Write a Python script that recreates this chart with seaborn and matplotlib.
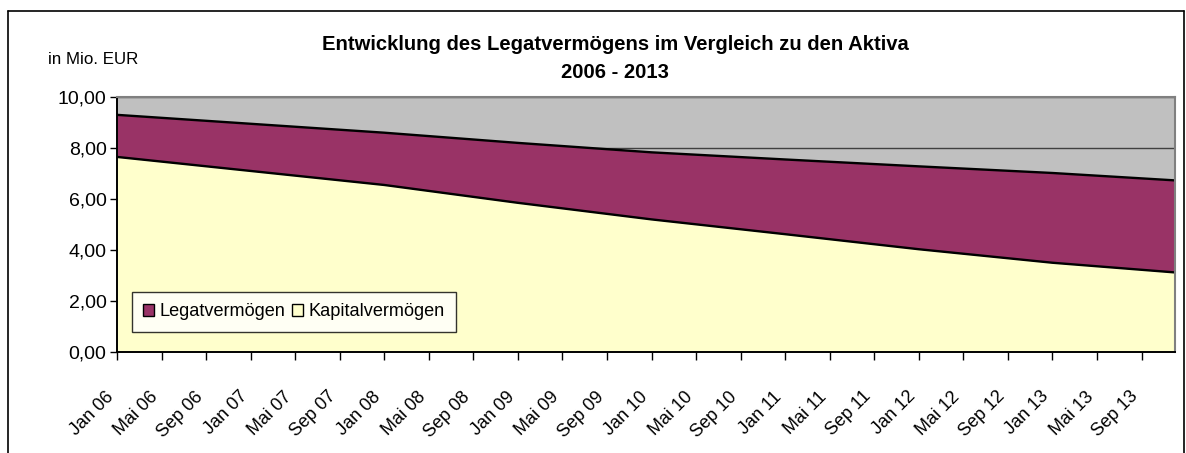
import numpy as np
import pandas as pd
import matplotlib
matplotlib.use("Agg")
import matplotlib.pyplot as plt
from matplotlib.patches import Patch
from matplotlib.lines import Line2D
import seaborn as sns

# Stichtage und Bestände in Mio. EUR
stichtage = ["2006-01", "2007-01", "2008-01", "2009-01", "2010-01",
             "2011-01", "2012-01", "2013-01", "2013-12"]
kapitalvermoegen = [7.65, 7.10, 6.55, 5.85, 5.20, 4.62, 4.03, 3.50, 3.12]
legatvermoegen = [1.65, 1.85, 2.05, 2.35, 2.63, 2.93, 3.25, 3.52, 3.61]

monats_labels = ["Jan 06", "Mai 06", "Sep 06", "Jan 07", "Mai 07", "Sep 07",
                 "Jan 08", "Mai 08", "Sep 08", "Jan 09", "Mai 09", "Sep 09",
                 "Jan 10", "Mai 10", "Sep 10", "Jan 11", "Mai 11", "Sep 11",
                 "Jan 12", "Mai 12", "Sep 12", "Jan 13", "Mai 13", "Sep 13"]
y_werte = [0, 2, 4, 6, 8, 10]

# Monatsindex ab Januar 2006
dt = pd.to_datetime(stichtage)
x = np.asarray((dt.year - 2006) * 12 + dt.month - 1, dtype=float)
kap = np.asarray(kapitalvermoegen)
gesamt = kap + np.asarray(legatvermoegen)

sns.set_theme(style="white")
plt.rcParams["font.family"] = ["Liberation Sans", "DejaVu Sans"]
plt.rcParams["text.color"] = "black"
plt.rcParams["xtick.color"] = "black"
plt.rcParams["ytick.color"] = "black"

W, H = 1186, 453
fig = plt.figure(figsize=(W / 100, H / 100), dpi=100)
fig.patch.set_facecolor("white")

ax = fig.add_axes([117 / W, 1 - 352 / H, (1175 - 117) / W, (352 - 97) / H])
ax.set_facecolor("#C0C0C0")

# Gitterlinien liegen hinter den Flächen
ax.set_axisbelow(True)
ax.yaxis.grid(True, color="#404040", lw=1.0)
ax.xaxis.grid(False)

ax.stackplot(x, kap, np.asarray(legatvermoegen),
             colors=["#FFFFCC", "#993366"], linewidth=0, zorder=2)
sns.lineplot(x=x, y=kap, color="black", lw=1.7, ax=ax, zorder=3)
sns.lineplot(x=x, y=gesamt, color="black", lw=1.7, ax=ax, zorder=3)
ax.vlines(x[-1], 0, gesamt[-1], color="#303030", lw=1.4, zorder=3)

ax.set_xlim(0, x[-1])
ax.set_ylim(0, 10)

ax.set_xticks(np.arange(len(monats_labels)) * 4)
ax.set_xticklabels(monats_labels, rotation=45, ha="right", va="top",
                   fontsize=13, color="black")
ax.set_yticks(y_werte)
ax.set_yticklabels([f"{v:.2f}".replace(".", ",") for v in y_werte],
                   fontsize=14, color="black")
ax.tick_params(axis="x", direction="out", length=6, width=1, color="black",
               pad=20, bottom=True)
ax.tick_params(axis="y", direction="out", length=5, width=1, color="black",
               pad=2.5, left=True)
ax.set_xlabel("")
ax.set_ylabel("")

for side in ("left", "bottom"):
    ax.spines[side].set_color("black")
    ax.spines[side].set_linewidth(1.4)
for side in ("top", "right"):
    ax.spines[side].set_color("#808080")
    ax.spines[side].set_linewidth(1.5)
for s in ax.spines.values():
    s.set_zorder(4)

# Legende
handles = [Patch(facecolor="#993366", edgecolor="black", lw=1.0),
           Patch(facecolor="#FFFFCC", edgecolor="black", lw=1.0)]
leg = fig.legend(handles, ["Legatvermögen", "Kapitalvermögen"], ncol=2,
                 loc="upper left", bbox_to_anchor=(132 / W, 1 - 292 / H),
                 frameon=True, fancybox=False, fontsize=13.1,
                 handlelength=0.6, handleheight=0.6, handletextpad=0.3,
                 columnspacing=0.35, borderpad=0.62, borderaxespad=0)
leg.get_frame().set_edgecolor("black")
leg.get_frame().set_linewidth(1.0)
leg.get_frame().set_facecolor("white")

# Titel und Einheit
fig.text(615 / W, 1 - 45 / H,
         "Entwicklung des Legatvermögens im Vergleich zu den Aktiva",
         ha="center", va="center", fontsize=14.6, fontweight="bold")
fig.text(615 / W, 1 - 72 / H, "2006 - 2013",
         ha="center", va="center", fontsize=14.6, fontweight="bold")
fig.text(48 / W, 1 - 59 / H, "in Mio. EUR", ha="left", va="center",
         fontsize=12.2)

# Rahmen des Diagrammbereichs
for (x0, y0, x1, y1) in [(7.5, 10.5, 1183.5, 10.5), (7.5, 10.5, 7.5, 453),
                         (1183.5, 10.5, 1183.5, 453)]:
    fig.add_artist(Line2D([x0 / W, x1 / W], [1 - y0 / H, 1 - y1 / H],
                          color="black", lw=1.2, transform=fig.transFigure))

fig.savefig("out.png", dpi=100)
